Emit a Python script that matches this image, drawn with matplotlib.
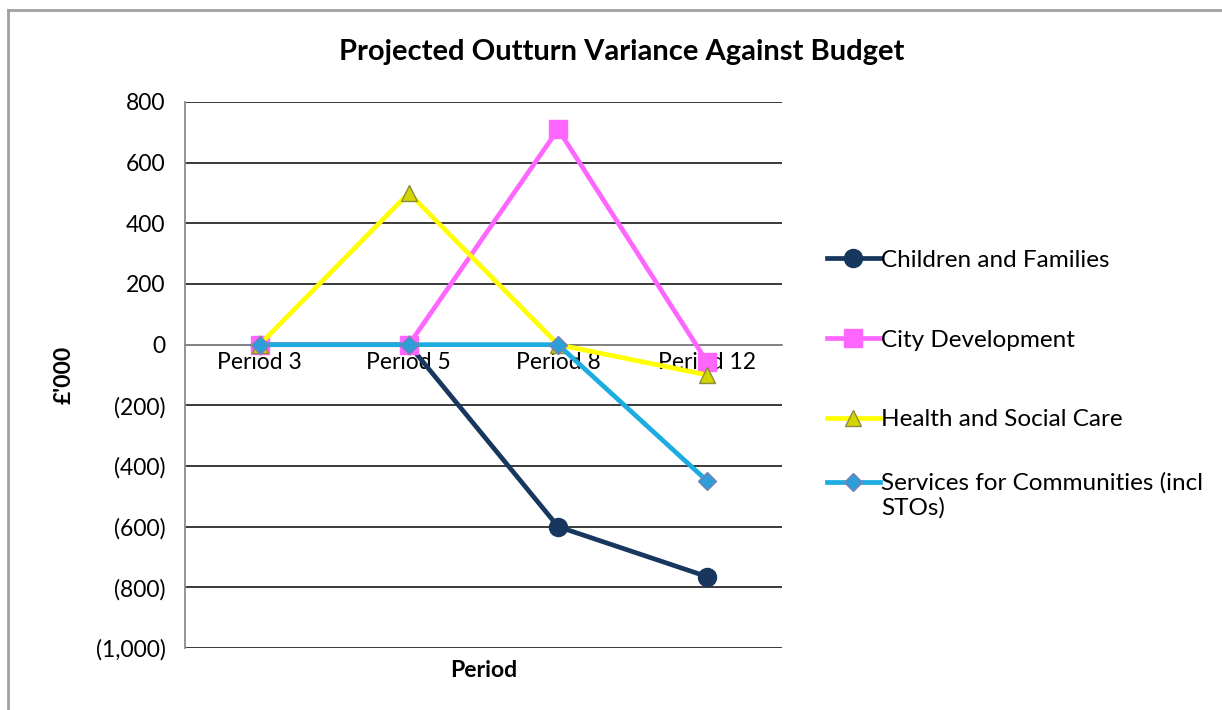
import matplotlib
matplotlib.use("Agg")
import numpy as np
import matplotlib.pyplot as plt
from matplotlib.ticker import FuncFormatter, FixedLocator
from matplotlib.lines import Line2D
from matplotlib.legend_handler import HandlerLine2D

plt.rcParams['font.family'] = ['Lato', 'DejaVu Sans']

periods = ["Period 3", "Period 5", "Period 8", "Period 12"]
children = [0, 0, -600, -765]
city = [0, 0, 710, -58]
health = [0, 500, 0, -100]
services = [0, 0, 0, -450]
series_names = ["Children and Families", "City Development",
                "Health and Social Care", "Services for Communities (incl\nSTOs)"]
yticks = [800, 600, 400, 200, 0, -200, -400, -600, -800, -1000]

fig = plt.figure(figsize=(12.22, 7.10), dpi=100)
ax = fig.add_axes([185/1222, (710-648)/710, (782-185)/1222, (648-102)/710])

x = list(range(len(periods)))
styles = [
    dict(color="#17375E", marker="o", markersize=13, markerfacecolor="#17375E", markeredgecolor="#17375E"),
    dict(color="#FF66FF", marker="s", markersize=13, markerfacecolor="#FF66FF", markeredgecolor="#FF66FF"),
    dict(color="#FFFF00", marker="^", markersize=11, markerfacecolor="#D4D400", markeredgecolor="#8C8C40"),
    dict(color="#1CACE0", marker="D", markersize=9, markerfacecolor="#2E9ED8", markeredgecolor="#7F7FB0"),
]
handles = []
for i, (vals, name, st) in enumerate(zip([children, city, health, services], series_names, styles)):
    h, = ax.plot(x, vals, linewidth=3.4, label=name, zorder=3 + i, clip_on=False, **st)
    handles.append(h)

ax.set_xlim(-0.5, len(periods) - 0.5)
ax.set_ylim(-1000, 800)
ax.yaxis.set_major_locator(FixedLocator(yticks))

def fmt(v, pos):
    v = int(round(v))
    if v < 0:
        return "({:,})".format(-v)
    return "{:,}".format(v)

ax.yaxis.set_major_formatter(FuncFormatter(fmt))
ax.grid(axis="y", color="#2b2b2b", linewidth=1.3, zorder=1)
ax.set_axisbelow(True)

for s in ["top", "right"]:
    ax.spines[s].set_visible(False)
ax.spines["left"].set_color("#8c8c8c")
ax.spines["left"].set_linewidth(1.3)
ax.spines["bottom"].set_position(("data", 0))
ax.spines["bottom"].set_color("#8c8c8c")
ax.spines["bottom"].set_linewidth(1.3)
ax.spines["bottom"].set_zorder(2)

ax.set_xticks(x)
ax.set_xticklabels(periods, fontsize=16.5)
ax.tick_params(axis="x", length=0, pad=5)
ax.tick_params(axis="y", length=0, pad=14, labelsize=16.5)

ax.text(0.5, -0.022, "Period", transform=ax.transAxes, ha="center", va="top",
        fontsize=16.5, fontweight="bold")
ax.set_ylabel("£'000", fontsize=16.5, fontweight="bold", labelpad=15)

fig.text(622/1222, 1 - 52/710, "Projected Outturn Variance Against Budget",
         ha="center", va="center", fontsize=21, fontweight="bold")


class HandlerShifted(HandlerLine2D):
    def __init__(self, dy=0, **kw):
        super().__init__(**kw)
        self.dy = dy

    def create_artists(self, *args, **kwargs):
        arts = super().create_artists(*args, **kwargs)
        for a in arts:
            a.set_ydata(np.asarray(a.get_ydata(), dtype=float) + self.dy)
        return arts


leg_kw = dict(loc="upper left", frameon=False, fontsize=17.5, labelspacing=2.42,
              handlelength=2.2, handletextpad=0.05, borderaxespad=0)
fig.legend(handles=handles[:3], bbox_to_anchor=(817/1222, 1 - 240/710), **leg_kw)
fig.legend(handles=handles[3:], bbox_to_anchor=(817/1222, 1 - 462/710),
           handler_map={handles[3]: HandlerShifted(dy=9.0)}, **leg_kw)

# outer frame (top and left edges visible in the reference)
fig.add_artist(Line2D([8/1222, 1.0], [1 - 10/710, 1 - 10/710], transform=fig.transFigure,
                      color="#a0a0a0", linewidth=2))
fig.add_artist(Line2D([8/1222, 8/1222], [0, 1 - 10/710], transform=fig.transFigure,
                      color="#a0a0a0", linewidth=2))

fig.savefig("out.png", dpi=100)
